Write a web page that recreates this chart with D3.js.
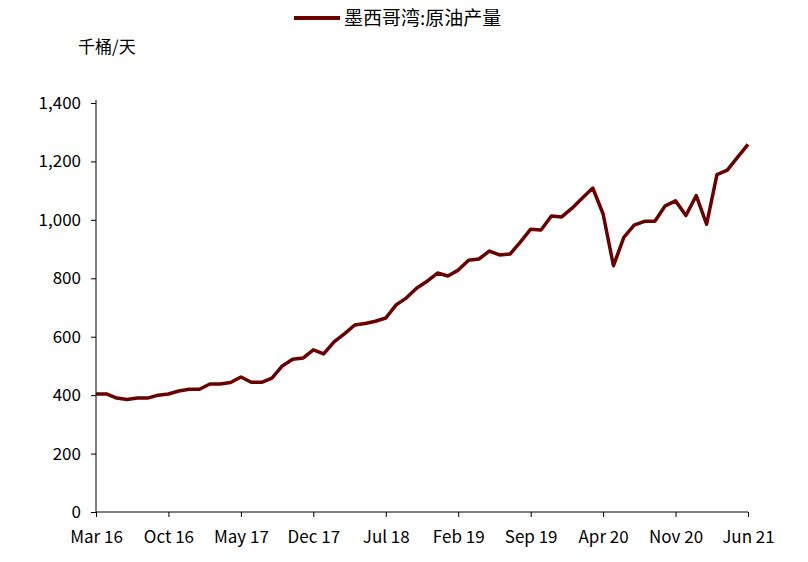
<!DOCTYPE html>
<html><head><meta charset="utf-8">
<script src="https://cdn.jsdelivr.net/npm/d3@7"></script>
<style>body{margin:0;background:#fff}text{font-family:"Noto Sans CJK SC","Noto Sans",sans-serif}</style>
</head><body><svg id="c" width="808" height="562"></svg>
<script>
const startMonth = "2016-03";
const values = [404,404,390,385,390,390,400,404,414,420,420,438,438,443,462,444,444,458,500,523,527,555,541,582,610,640,645,653,664,709,733,767,790,818,808,828,862,866,893,880,883,924,968,965,1013,1010,1040,1075,1109,1020,843,940,982,995,995,1048,1065,1015,1083,985,1155,1170,1215,1258];
const tickLabels = ["Mar 16","Oct 16","May 17","Dec 17","Jul 18","Feb 19","Sep 19","Apr 20","Nov 20","Jun 21"];
const yTicks = [0,200,400,600,800,1000,1200,1400];
const seriesName = "墨西哥湾:原油产量";
const unit = "千桶/天";
const color = "#6b0000";

const svg = d3.select("#c");
const L=96,R=748,T=103,B=512;
const x = d3.scaleLinear().domain([0,values.length-1]).range([L,R]);
const y = d3.scaleLinear().domain([0,1400]).range([B,T]);

svg.append("g").attr("transform",`translate(${L},0)`)
  .call(d3.axisLeft(y).tickValues(yTicks).tickFormat(d3.format(",")).tickSize(5).tickPadding(10))
  .call(g=>{g.select(".domain").attr("d",`M0,${B}V${T-3}`);g.selectAll("text").attr("font-size",17).attr("fill","#000");});
const tickIdx = tickLabels.map((_,i)=>i*7);
svg.append("g").attr("transform",`translate(0,${B})`)
  .call(d3.axisBottom(x).tickValues(tickIdx).tickFormat((d,i)=>tickLabels[i]).tickSize(5).tickPadding(14))
  .call(g=>{g.select(".domain").attr("d",`M${L},0H${R}`);g.selectAll("text").attr("font-size",17).attr("fill","#000");});

svg.append("path").datum(values).attr("fill","none").attr("stroke",color).attr("stroke-width",3.5)
  .attr("stroke-linejoin","round")
  .attr("d",d3.line().x((d,i)=>x(i)).y(d=>y(d)));

svg.append("line").attr("x1",294).attr("x2",340).attr("y1",18).attr("y2",18).attr("stroke",color).attr("stroke-width",4);
svg.append("text").attr("x",344).attr("y",25).attr("font-size",19).text(seriesName);
svg.append("text").attr("x",78).attr("y",53).attr("font-size",17).text(unit);
</script></body></html>
